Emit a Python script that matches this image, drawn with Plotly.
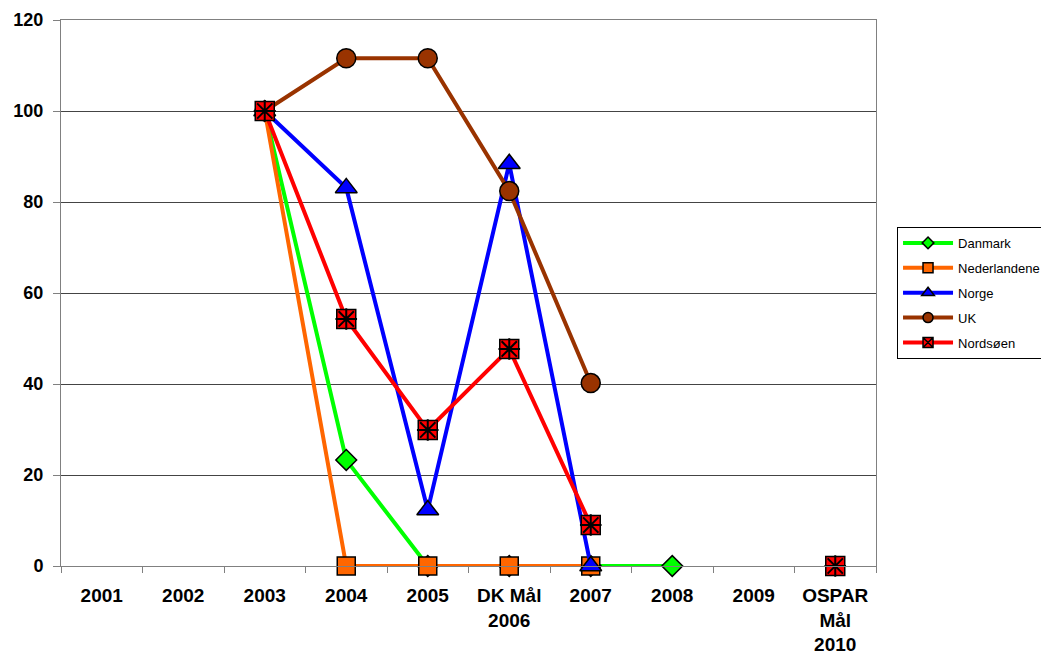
import plotly.graph_objects as go

categories = ["2001", "2002", "2003", "2004", "2005", "DK Mål<br>2006", "2007", "2008", "2009", "OSPAR<br>Mål<br>2010"]

danmark = [None, None, 100, 23.3, 0, 0, 0, 0, None, None]
nederlandene = [None, None, 100, 0, 0, 0, 0, None, None, None]
norge = [None, None, 100, 83.1, 12.3, 88.4, 0, None, None, None]
uk = [None, None, 100, 111.6, 111.6, 82.4, 40.2, None, None, None]
nordsoen = [None, None, 100, 54.3, 29.9, 47.7, 9.0, None, None, 0]

series_names = ["Danmark", "Nederlandene", "Norge", "UK", "Nordsøen"]
series_values = [danmark, nederlandene, norge, uk, nordsoen]
colors = ["#00FF00", "#FF6600", "#0000FF", "#993300", "#FF0000"]
symbols = ["diamond", "square", "triangle-up", "circle", "square"]
sizes = [16, 18, 19, 19, 19]
legend_symbols = ["diamond", "square", "triangle-up", "circle", "square-x"]
legend_sizes = [9, 10, 11, 10, 10]

FONT = "Liberation Sans, Arial, sans-serif"
fig = go.Figure()

for name, vals, color, sym, sz in zip(series_names, series_values, colors, symbols, sizes):
    fig.add_trace(go.Scatter(
        x=categories, y=vals, name=name, mode="lines+markers",
        line=dict(color=color, width=4),
        marker=dict(symbol=sym, size=sz, color=color, line=dict(color="black", width=1.5)),
        cliponaxis=False, connectgaps=False, showlegend=False,
    ))
    if name == "Nordsøen":
        fig.add_trace(go.Scatter(
            x=categories, y=vals, mode="markers", showlegend=False,
            marker=dict(symbol="asterisk-open", size=18, color="black",
                        line=dict(color="black", width=2)),
            cliponaxis=False, hoverinfo="skip",
        ))

# legend entries
for name, color, sym, sz in zip(series_names, colors, legend_symbols, legend_sizes):
    fig.add_trace(go.Scatter(
        x=[categories[0]], y=[None], name=name, mode="lines+markers",
        line=dict(color=color, width=4),
        marker=dict(symbol=sym, size=sz, color=color, line=dict(color="black", width=1.5)),
        legendgroup=name, showlegend=True,
    ))

fig.update_layout(
    width=1049, height=662,
    paper_bgcolor="white", plot_bgcolor="white",
    margin=dict(l=53, r=181, t=12, b=104, autoexpand=False),
    font=dict(family=FONT, color="black"),
    legend=dict(
        x=1.0258, y=0.621, xanchor="left", yanchor="top",
        bordercolor="black", borderwidth=1, bgcolor="white",
        font=dict(size=13, family=FONT), itemwidth=50, tracegroupgap=5,
    ),
)
fig.update_xaxes(
    type="category", categoryorder="array", categoryarray=categories,
    range=[-0.5, 9.5], automargin=False,
    showline=True, linecolor="#808080", linewidth=1, mirror=True,
    ticks="outside", ticklen=6, tickcolor="#808080", tickson="boundaries",
    ticklabelstandoff=12,
    tickfont=dict(size=19, family=FONT, weight="bold"),
    showgrid=False,
)
fig.update_yaxes(
    range=[0, 120], dtick=20, automargin=False,
    showline=True, linecolor="#808080", linewidth=1, mirror=True,
    ticks="outside", ticklen=7, tickcolor="#808080",
    ticklabelstandoff=6,
    showgrid=True, gridcolor="#444444", gridwidth=1,
    zeroline=False,
    tickfont=dict(size=18, family=FONT, weight="bold"),
)

fig.write_html("out.html")
